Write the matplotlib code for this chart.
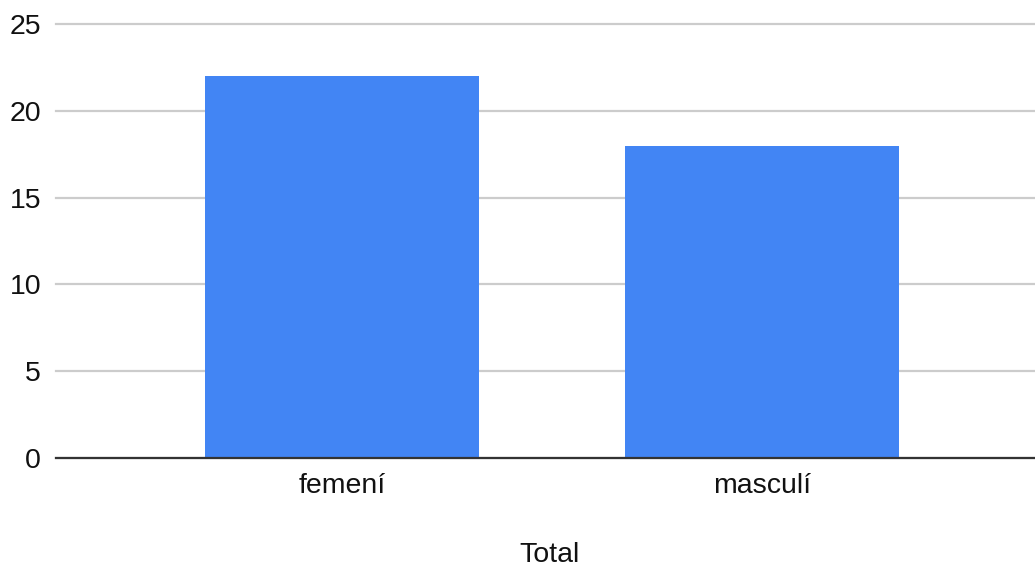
import matplotlib.pyplot as plt

plt.rcParams['font.family'] = ['Liberation Sans', 'DejaVu Sans']

categories = ["femení", "masculí"]
values = [22, 18]
y_ticks = [0, 5, 10, 15, 20, 25]

fig = plt.figure(figsize=(10.35, 5.73), dpi=100)
ax = fig.add_axes([56 / 1035, 1 - 458 / 573, 1 - 56 / 1035, (458 - 24) / 573])

x = list(range(len(categories)))
ax.bar(x, values, width=0.652, color="#4285F4", zorder=3)

ax.set_xlim(-0.681, 1.65)
ax.set_ylim(0, 25)
ax.set_yticks(y_ticks)
ax.set_xticks(x)
ax.set_xticklabels(categories)

ax.grid(axis="y", color="#cccccc", linewidth=1.6, zorder=0)
for gl in ax.get_ygridlines():
    gl.set_clip_on(False)
for side in ["top", "right", "left"]:
    ax.spines[side].set_visible(False)
ax.spines["bottom"].set_color("#333333")
ax.spines["bottom"].set_linewidth(1.6)
ax.spines["bottom"].set_zorder(4)

ax.tick_params(axis="y", length=0, pad=10.8, labelsize=20.5, labelcolor="#111111")
ax.tick_params(axis="x", length=0, pad=11, labelsize=20.5, labelcolor="#111111")

ax.set_xlabel("Total", fontsize=20.5, color="#111111")
ax.xaxis.set_label_coords((550 - 56) / (1035 - 56), -(555 - 458) / (458 - 24))
ax.xaxis.label.set_va("center")

fig.savefig("out.png", dpi=100)
